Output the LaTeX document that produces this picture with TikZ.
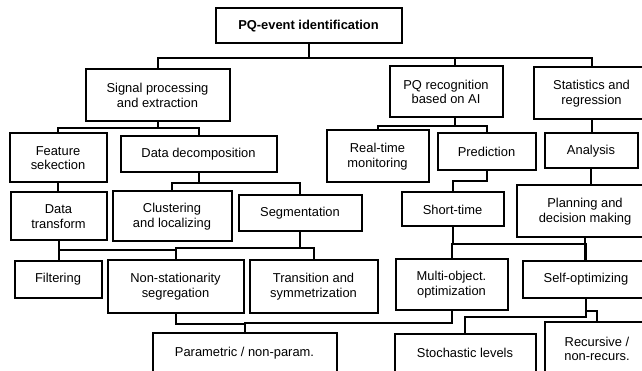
\documentclass[tikz,border=0pt]{standalone}
\usepackage{fontspec}
\setmainfont{Liberation Sans}
\usepackage{tikz}
\tikzset{bx/.style={draw=black,line width=2pt,align=center,inner sep=0pt,font=\fontsize{12.9}{14.6}\selectfont},
	ln/.style={black,line width=2pt}}

\begin{document}
\begin{tikzpicture}[x=1pt,y=-1pt]
		\useasboundingbox (0,0) rectangle (642,371);
		\clip (0,0) rectangle (642,371);
		
		\path
		(308.5,26)  node[bx,minimum width=186,minimum height=35,font=\fontsize{12.9}{14.6}\selectfont\bfseries] (top) {PQ-event identification}
		(157.5,95.5) node[bx,minimum width=144,minimum height=52] (sig) {Signal processing\\and extraction}
		(446,92)    node[bx,minimum width=113,minimum height=51] (pqr) {PQ recognition\\based on AI}
		(591.5,93.5) node[bx,minimum width=116,minimum height=52] (stat) {Statistics and\\regression};
		
		\path
		(58,158)    node[bx,minimum width=97,minimum height=49] (feat) {Feature\\sekection}
		(198.5,154.5) node[bx,minimum width=156,minimum height=36] (ddec) {Data decomposition}
		(377.5,156.5) node[bx,minimum width=102,minimum height=52] (rtm) {Real-time\\monitoring}
		(486.5,152) node[bx,minimum width=98,minimum height=37] (pred) {Prediction}
		(591,151)   node[bx,minimum width=93,minimum height=35] (ana) {Analysis};
		
		\path
		(58.5,216.5) node[bx,minimum width=96,minimum height=48] (dtr) {Data\\transform}
		(172,216.5) node[bx,minimum width=119,minimum height=50] (clu) {Clustering\\and localizing}
		(300,213.5) node[bx,minimum width=123,minimum height=36] (seg) {Segmentation}
		(452.5,209.5) node[bx,minimum width=102,minimum height=34] (sht) {Short-time}
		(585,211.5) node[bx,minimum width=136,minimum height=52] (plan) {Planning and\\decision making};
		
		\path
		(58,279.5)  node[bx,minimum width=87,minimum height=36] (fil) {Filtering}
		(175.5,286.5) node[bx,minimum width=136,minimum height=52] (nons) {Non-stationarity\\segregation}
		(313.5,286.5) node[bx,minimum width=128,minimum height=52] (tran) {Transition and\\symmetrization}
		(451.5,284.5) node[bx,minimum width=112,minimum height=50] (multi) {Multi-object.\\optimization}
		(586,279.5) node[bx,minimum width=127,minimum height=36] (self) {Self-optimizing};
		
		\path
		(244.5,353) node[bx,minimum width=184,minimum height=40] (par) {Parametric / non-param.}
		(465,353)   node[bx,minimum width=141,minimum height=38] (sto) {Stochastic levels}
		(597,349)   node[bx,minimum width=105,minimum height=54] (rec) {Recursive /\\non-recurs.};
		
		\draw[ln] (top.south) -- ++(0,13.5) -| (sig.north);
		\draw[ln] (top.south) ++(0,13.5) -| ([xshift=9]pqr.north);
		\draw[ln] (top.south) ++(0,13.5) -| (stat.north);
		
		\draw[ln] (sig.south) -- ++(0,5.5) -| (feat.north);
		\draw[ln] (sig.south) ++(0,5.5) -| (ddec.north);
		\draw[ln] ([xshift=9]pqr.south) -- ++(0,7.5) -| (rtm.north);
		\draw[ln] ([xshift=9]pqr.south) ++(0,7.5) -| (pred.north);
		\draw[ln] (stat.south) -- (stat.south |- ana.north);
		
		\draw[ln] (feat.south) -- (feat.south |- dtr.north);
		\draw[ln] (ddec.south) -- ++(0,10) -| (clu.north);
		\draw[ln] (ddec.south) ++(0,10) -| (seg.north);
		\draw[ln] (pred.south) -- ++(0,9.5) -| (sht.north);
		\draw[ln] (ana.south) -- (ana.south |- plan.north);
		
		\draw[ln] (dtr.south) -- (dtr.south |- fil.north);
		\draw[ln] (dtr.south) ++(0,9) -| (nons.north);
		\draw[ln] (seg.south) -- ++(0,15.5) -| (nons.north);
		\draw[ln] (seg.south) ++(0,15.5) -| (tran.north);
		\draw[ln] (sht.south) -- ++(0,16.5) -| (multi.north);
		\draw[ln] (sht.south) ++(0,16.5) -| (self.north);
		\draw[ln] (plan.south) -- (plan.south |- self.north);
		
		\draw[ln] (nons.south) -- ++(0,10.5) -| (par.north);
		\draw[ln] (multi.south) -- ++(0,12.5) -| (par.north);
		\draw[ln] (self.south) -- ++(0,18.5) -| (sto.north);
		\draw[ln] (self.south) ++(0,12.5) -| (rec.north);
	\end{tikzpicture}
\end{document}
